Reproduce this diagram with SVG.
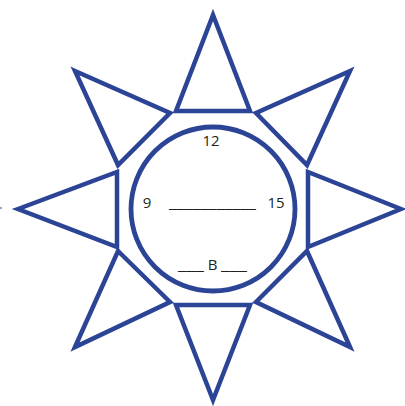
<svg xmlns="http://www.w3.org/2000/svg" width="405" height="406" viewBox="0 0 405 406">
<style>
.ray{fill:#fff;stroke:#2c4496;stroke-width:4.5;stroke-linejoin:miter;stroke-miterlimit:10}
.face{fill:#fff;stroke:#2c4496;stroke-width:4.8}
.t{font-family:"Open Sans","Liberation Sans",sans-serif;font-size:15px;fill:#231f20}
</style>
<rect width="405" height="406" fill="#fff"/>
<g id="rays">
<g id="ray-top"><polygon class="ray" points="213,15 176,111 250,111"/></g>
<g id="ray-bottom"><polygon class="ray" points="213,400 176,305 250,305"/></g>
<g id="ray-left"><polygon class="ray" points="18,209 117,172 117,247"/></g>
<g id="ray-right"><polygon class="ray" points="401,209 308,172 308,247"/></g>
<g id="ray-ul"><polygon class="ray" points="75,71 170,113 118,165"/></g>
<g id="ray-ur"><polygon class="ray" points="350,71 256,113 307,165"/></g>
<g id="ray-ll"><polygon class="ray" points="75,347 118,251 170,302"/></g>
<g id="ray-lr"><polygon class="ray" points="350,347 307,251 256,302"/></g>
</g>
<g id="face">
<circle class="face" cx="213" cy="209" r="82"/>
</g>
<line x1="0" y1="208" x2="2" y2="208" stroke="#2c4496" stroke-width="1"/>
<g id="labels">
<text class="t" x="211" y="146" text-anchor="middle">12</text>
<text class="t" x="147" y="208" text-anchor="middle">9</text>
<text class="t" x="276" y="208" text-anchor="middle">15</text>
<text class="t" x="169" y="208" textLength="87" lengthAdjust="spacingAndGlyphs">___________</text>
<text class="t" x="178" y="270" textLength="26" lengthAdjust="spacingAndGlyphs">___</text>
<text class="t" x="212.5" y="270" text-anchor="middle">B</text>
<text class="t" x="221" y="270" textLength="26" lengthAdjust="spacingAndGlyphs">___</text>
</g>
</svg>
